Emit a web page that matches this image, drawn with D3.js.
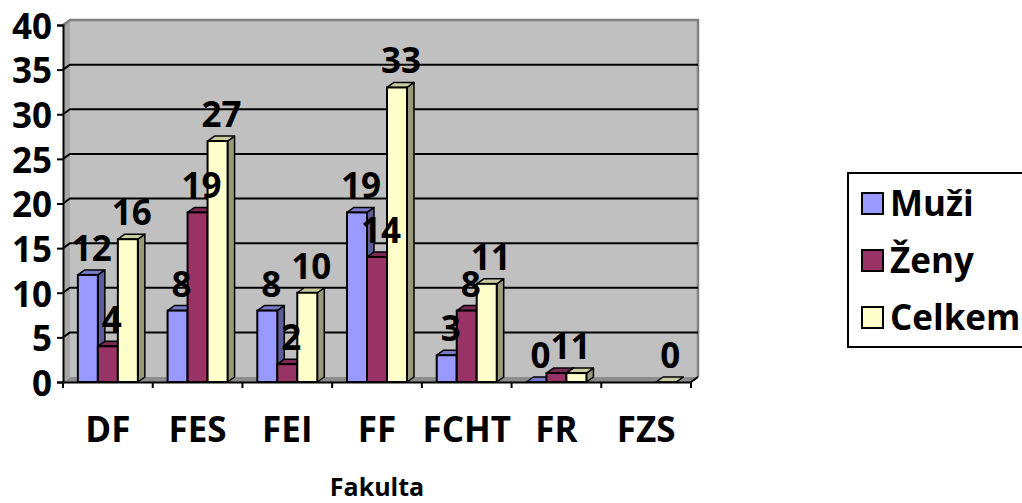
<!DOCTYPE html>
<html>
<head>
<meta charset="utf-8">
<script src="https://cdn.jsdelivr.net/npm/d3@7"></script>
<style>
  body { margin: 0; background: #fff; }
  text { font-family: "Open Sans", sans-serif; font-weight: bold; fill: #000; }
</style>
</head>
<body>
<svg id="chart"></svg>
<script>
// data
const categories = ['DF', 'FES', 'FEI', 'FF', 'FCHT', 'FR', 'FZS'];
const seriesNames = ['Muži', 'Ženy', 'Celkem'];
const muzi   = [12, 8, 8, 19, 3, 0, null];
const zeny   = [4, 19, 2, 14, 8, 1, null];
const celkem = [16, 27, 10, 33, 11, 1, 0];
const yTicks = [0, 5, 10, 15, 20, 25, 30, 35, 40];

const width = 1022, height = 503;
const plot = { left: 63, right: 691, top: 25, bottom: 382 };
const dx = 7, dy = -5; // 3d depth offset
const bigFont = '35px';

const colors = {
  'Muži':   { front: '#9999ff', side: '#5c5c99', top: '#7a7acc' },
  'Ženy':   { front: '#993366', side: '#5c1f3d', top: '#7a2952' },
  'Celkem': { front: '#ffffcc', side: '#99997a', top: '#cccca3' }
};

const svg = d3.select('#chart').attr('width', width).attr('height', height);

const x = d3.scaleBand().domain(categories).range([plot.left, plot.right]).padding(0);
const groupW = 60;
const x1 = d3.scaleBand().domain(seriesNames).range([0, groupW]).padding(0);
const y = d3.scaleLinear().domain([0, 40]).range([plot.bottom, plot.top]);

// walls
const wallTop = y(40) + dy, wallBottom = y(0) + dy;
svg.append('polygon') // side wall
  .attr('points', [[plot.left, y(40)], [plot.left + dx, wallTop], [plot.left + dx, wallBottom], [plot.left, y(0)]].join(' '))
  .attr('fill', '#a6a6a6');
svg.append('rect') // back wall
  .attr('x', plot.left + dx).attr('y', wallTop)
  .attr('width', plot.right - plot.left).attr('height', wallBottom - wallTop)
  .attr('fill', '#c0c0c0');
svg.append('polyline')
  .attr('points', [[plot.left, y(40)], [plot.left + dx, wallTop], [plot.right + dx, wallTop], [plot.right + dx, wallBottom]].join(' '))
  .attr('fill', 'none').attr('stroke', '#808080').attr('stroke-width', 2.5);
svg.append('polygon') // floor
  .attr('points', [[plot.left, y(0)], [plot.right, y(0)], [plot.right + dx, wallBottom], [plot.left + dx, wallBottom]].join(' '))
  .attr('fill', '#8c8c8c');

// gridlines
svg.selectAll('.grid')
  .data(yTicks.filter(v => v > 0 && v < 40))
  .enter().append('polyline')
  .attr('class', 'grid')
  .attr('points', v => [[plot.left, y(v)], [plot.left + dx, y(v) + dy], [plot.right + dx, y(v) + dy]].join(' '))
  .attr('fill', 'none').attr('stroke', '#000').attr('stroke-width', 2);

// bars
const rows = [];
categories.forEach((c, i) => {
  [muzi, zeny, celkem].forEach((arr, j) => {
    if (arr[i] !== null) rows.push({ cat: c, series: seriesNames[j], value: arr[i] });
  });
});
const offset = (x.bandwidth() - groupW) / 2;
const bx = d => x(d.cat) + offset + x1(d.series);
const bw = x1.bandwidth();

const bars = svg.selectAll('.bar').data(rows).enter().append('g').attr('class', 'bar');
bars.append('polygon') // side
  .attr('points', d => [[bx(d) + bw, y(d.value)], [bx(d) + bw + dx, y(d.value) + dy], [bx(d) + bw + dx, y(0) + dy], [bx(d) + bw, y(0)]].join(' '))
  .attr('fill', d => colors[d.series].side).attr('stroke', '#000').attr('stroke-width', 1.5).attr('stroke-linejoin', 'round');
bars.append('polygon') // top
  .attr('points', d => [[bx(d), y(d.value)], [bx(d) + dx, y(d.value) + dy], [bx(d) + bw + dx, y(d.value) + dy], [bx(d) + bw, y(d.value)]].join(' '))
  .attr('fill', d => colors[d.series].top).attr('stroke', '#000').attr('stroke-width', 1.5).attr('stroke-linejoin', 'round');
bars.append('rect') // front
  .attr('x', bx).attr('y', d => y(d.value))
  .attr('width', bw).attr('height', d => y(0) - y(d.value))
  .attr('fill', d => colors[d.series].front).attr('stroke', '#000').attr('stroke-width', 2);

// value labels
svg.selectAll('.val').data(rows).enter().append('text')
  .attr('class', 'val')
  .attr('x', d => bx(d) + bw / 2 + 4)
  .attr('y', d => y(d.value) - 14)
  .attr('text-anchor', 'middle')
  .style('font-size', bigFont)
  .text(d => d.value);

// axes
const yAxis = svg.append('g').attr('class', 'y-axis')
  .attr('transform', `translate(${plot.left},0)`)
  .call(d3.axisLeft(y).tickValues(yTicks).tickSize(6).tickPadding(5));
yAxis.select('.domain').attr('stroke', '#000').attr('stroke-width', 2);
yAxis.selectAll('.tick line').attr('stroke', '#000').attr('stroke-width', 2);
yAxis.selectAll('.tick text').style('font-size', bigFont).style('font-family', '"Open Sans", sans-serif').attr('dy', '0.38em');

const xAxis = svg.append('g').attr('class', 'x-axis')
  .attr('transform', `translate(0,${plot.bottom})`)
  .call(d3.axisBottom(x).tickSize(0).tickPadding(60));
xAxis.select('.domain').attr('stroke', '#000').attr('stroke-width', 2);
xAxis.selectAll('.tick text').style('font-size', bigFont).style('font-family', '"Open Sans", sans-serif').attr('dy', 0);
xAxis.append('line').attr('x1', plot.right).attr('y1', 0).attr('x2', plot.right + dx).attr('y2', dy)
  .attr('stroke', '#000').attr('stroke-width', 2);
xAxis.selectAll('.bound')
  .data(categories.map(c => x(c)).concat([plot.right]))
  .enter().append('line')
  .attr('class', 'bound')
  .attr('x1', d => d).attr('x2', d => d).attr('y1', 0).attr('y2', 6)
  .attr('stroke', '#000').attr('stroke-width', 2);

svg.append('text')
  .attr('x', (plot.left + plot.right) / 2).attr('y', 496)
  .attr('text-anchor', 'middle').style('font-size', '25px')
  .text('Fakulta');

// legend
const legend = svg.append('g').attr('transform', 'translate(848,173)');
legend.append('rect').attr('x', 0).attr('y', 0).attr('width', 190).attr('height', 174)
  .attr('fill', '#fff').attr('stroke', '#000').attr('stroke-width', 2);
const items = legend.selectAll('.item').data(seriesNames).enter().append('g')
  .attr('class', 'item')
  .attr('transform', (d, i) => `translate(14,${30 + i * 57})`);
items.append('rect').attr('x', 0).attr('y', -10).attr('width', 21).attr('height', 21)
  .attr('fill', d => colors[d].front).attr('stroke', '#000').attr('stroke-width', 2);
items.append('text').attr('x', 28).attr('y', 0).attr('dy', '0.37em')
  .style('font-size', bigFont).text(d => d);
</script>
</body>
</html>
